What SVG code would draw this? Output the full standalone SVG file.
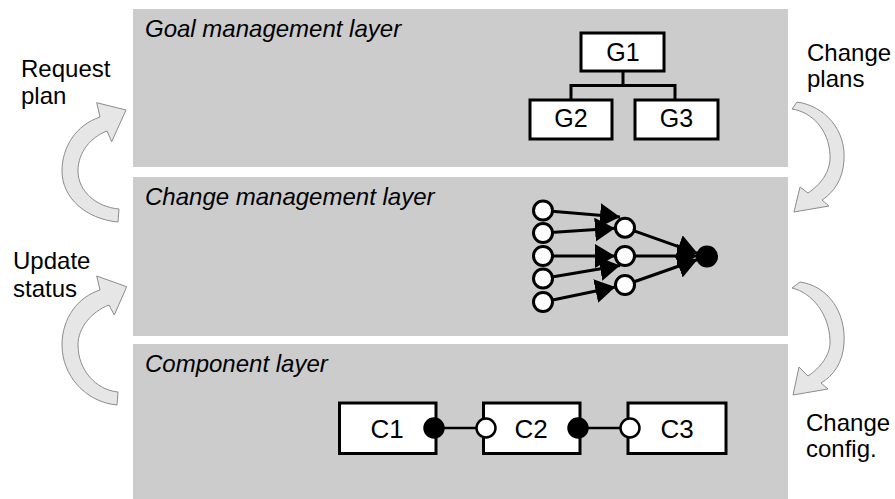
<svg xmlns="http://www.w3.org/2000/svg" width="895" height="499" viewBox="0 0 895 499">
  <style>
    .layer { fill: #cccccc; }
    .lbl { font-family: "Liberation Sans", Arial, sans-serif; font-size: 24px; fill: #000; }
    .ital { font-style: italic; }
    .gtxt { font-size: 25px; }
    .ctxt { font-size: 26px; }
    .box { fill: #fff; stroke: #000; stroke-width: 3; }
    .mid { text-anchor: middle; }
    .tree { fill: none; stroke: #000; stroke-width: 3; }
    .edge { fill: none; stroke: #000; stroke-width: 3; marker-end: url(#head); }
    .node { fill: #fff; stroke: #000; stroke-width: 3; }
    .sink { fill: #000; stroke: #000; stroke-width: 3; }
    .port-in { fill: #fff; stroke: #000; stroke-width: 2.5; }
    .port-out { fill: #000; stroke: #000; stroke-width: 2.5; }
    .wire { stroke: #000; stroke-width: 2.5; }
    .flow { fill: #e6e6e6; stroke: #8c8c8c; stroke-width: 1; }
  </style>
  <defs>
    <marker id="head" markerUnits="userSpaceOnUse" markerWidth="24" markerHeight="26" refX="20" refY="12" orient="auto">
      <path d="M0,0 L20,12 L0,24 Z" fill="#000"/>
    </marker>
  </defs>

  <!-- layers -->
  <g id="goal-layer">
    <rect class="layer" x="133" y="9" width="655" height="158"/>
    <text class="lbl ital" x="145" y="36.5">Goal management layer</text>
  </g>
  <g id="change-layer">
    <rect class="layer" x="133" y="177" width="655" height="159"/>
    <text class="lbl ital" x="145" y="204.5">Change management layer</text>
  </g>
  <g id="component-layer">
    <rect class="layer" x="133" y="344" width="655" height="155"/>
    <text class="lbl ital" x="145" y="371.5">Component layer</text>
  </g>

  <!-- goal tree -->
  <g id="goal-tree-links">
    <path class="tree" d="M623,71 V85.5 M571,100 V85.5 H675 V100"/>
  </g>
  <g id="G1">
    <rect class="box" x="581" y="33" width="83" height="38"/>
    <text class="lbl gtxt mid" x="623" y="60.5">G1</text>
  </g>
  <g id="G2">
    <rect class="box" x="530" y="100" width="82" height="39"/>
    <text class="lbl gtxt mid" x="571" y="127">G2</text>
  </g>
  <g id="G3">
    <rect class="box" x="635" y="100" width="83" height="39"/>
    <text class="lbl gtxt mid" x="676.5" y="127">G3</text>
  </g>

  <!-- plan graph -->
  <g id="plan-edges">
    <line class="edge" x1="543" y1="210.5" x2="620" y2="217"/>
    <line class="edge" x1="543" y1="233" x2="615" y2="228.3"/>
    <line class="edge" x1="543" y1="256" x2="615" y2="256"/>
    <line class="edge" x1="543" y1="278.5" x2="620" y2="265.5"/>
    <line class="edge" x1="543" y1="302" x2="615.3" y2="287"/>
    <line class="edge" x1="625" y1="227.7" x2="697.5" y2="253.3"/>
    <line class="edge" x1="625" y1="256" x2="697" y2="256"/>
    <line class="edge" x1="625" y1="285" x2="697.5" y2="259.5"/>
  </g>
  <g id="plan-nodes">
    <circle class="node" cx="543" cy="210.5" r="9.5"/>
    <circle class="node" cx="543" cy="233" r="9.5"/>
    <circle class="node" cx="543" cy="256" r="9.5"/>
    <circle class="node" cx="543" cy="278.5" r="9.5"/>
    <circle class="node" cx="543" cy="302" r="9.5"/>
    <circle class="node" cx="625" cy="227.7" r="9.5"/>
    <circle class="node" cx="625" cy="256" r="9.5"/>
    <circle class="node" cx="625" cy="285" r="9.5"/>
    <circle class="sink" cx="707" cy="256.5" r="9.5"/>
  </g>

  <!-- components -->
  <g id="component-wires">
    <line class="wire" x1="434" y1="428" x2="486" y2="428"/>
    <line class="wire" x1="578" y1="428" x2="630" y2="428"/>
  </g>
  <g id="C1">
    <rect class="box" x="339.5" y="403" width="96.5" height="50.5"/>
    <text class="lbl ctxt mid" x="387" y="437.5">C1</text>
    <circle class="port-out" cx="434" cy="428" r="9.5"/>
  </g>
  <g id="C2">
    <rect class="box" x="483.5" y="403" width="96.5" height="50.5"/>
    <text class="lbl ctxt mid" x="531" y="437.5">C2</text>
    <circle class="port-in" cx="486" cy="428" r="9.5"/>
    <circle class="port-out" cx="578" cy="428" r="9.5"/>
  </g>
  <g id="C3">
    <rect class="box" x="628" y="403" width="98" height="50.5"/>
    <text class="lbl ctxt mid" x="677" y="437.5">C3</text>
    <circle class="port-in" cx="630" cy="428" r="9.5"/>
  </g>

  <!-- flows between layers -->
  <g id="request-plan">
    <path class="flow" d="M118,222 C86,219 62,198 62,171 C62,147 76,125 100,117 L96.7,102.7 L126,110 L111.7,141.7 L107,131 C91,137 78,152 78,171 C78,191 96,207 119,209 Z"/>
    <text class="lbl" x="21" y="77">Request</text>
    <text class="lbl" x="21" y="104">plan</text>
  </g>
  <g id="update-status">
    <path class="flow" d="M117,405 C85,402 62,375 62,345 C62,318 78,297 100,290 L96.7,276 L126.7,286.7 L114.3,315 L109,305 C91,312 78,328 78,345 C78,370 96,390 118,392 Z"/>
    <text class="lbl" x="13" y="269">Update</text>
    <text class="lbl" x="13" y="297">status</text>
  </g>
  <g id="change-plans">
    <path class="flow" d="M797,102 C825,106 846,130 844,160 C843,180 833,193 822,200 L829,206 L794,212 L800,187 L808,193 C820,185 831,172 830,155 C829,130 812,112 792,109 Z"/>
    <text class="lbl" x="807" y="61">Change</text>
    <text class="lbl" x="807" y="87">plans</text>
  </g>
  <g id="change-config">
    <path class="flow" d="M800,282 C828,286 846,312 844,343 C843,363 833,376 821,383 L828,389 L793,395 L799,367 L808,376 C820,368 831,355 830,340 C829,315 813,293 792,288 Z"/>
    <text class="lbl" x="806" y="431">Change</text>
    <text class="lbl" x="806" y="457">config.</text>
  </g>
</svg>
